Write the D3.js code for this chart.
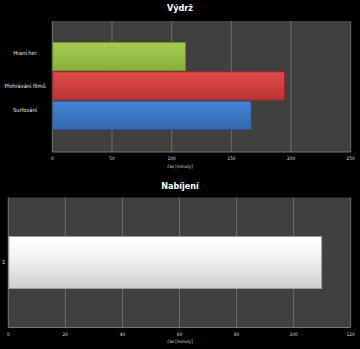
<!DOCTYPE html>
<html>
<head>
<meta charset="utf-8">
<script src="https://cdn.jsdelivr.net/npm/d3@7"></script>
<style>
body { margin: 0; background: #000; }
svg { display: block; font-family: "DejaVu Sans Condensed", "DejaVu Sans", sans-serif; }
</style>
</head>
<body>
<div id="main"></div>
<script>
var categories = ["Hraní her", "Přehrávání filmů", "Surfování"];
var enduranceValues = [112, 195, 167];
var enduranceTicks = [0, 50, 100, 150, 200, 250];
var barColors = [["#a6cc52", "#88b03a", "#6e8f2c"], ["#e24a4a", "#ba3434", "#962828"], ["#4486d8", "#3468ac", "#2a548c"]];

var chargeCategories = ["1"];
var chargeValues = [110];
var chargeTicks = [0, 20, 40, 60, 80, 100, 120];

var width = 360, height = 349;
var svg = d3.select("#main").append("svg").attr("width", width).attr("height", height);
var defs = svg.append("defs");

barColors.forEach(function (c, i) {
	var g = defs.append("linearGradient").attr("id", "grad" + i)
		.attr("x1", 0).attr("y1", 0).attr("x2", 0).attr("y2", 1);
	g.append("stop").attr("offset", "0%").attr("stop-color", c[0]);
	g.append("stop").attr("offset", "100%").attr("stop-color", c[1]);
});
var wg = defs.append("linearGradient").attr("id", "gradWhite")
	.attr("x1", 0).attr("y1", 0).attr("x2", 0).attr("y2", 1);
wg.append("stop").attr("offset", "0%").attr("stop-color", "#ffffff");
wg.append("stop").attr("offset", "35%").attr("stop-color", "#f6f6f6");
wg.append("stop").attr("offset", "100%").attr("stop-color", "#cfcfcf");

function drawPanel(opt) {
	var g = svg.append("g");
	var x = d3.scaleLinear().domain(opt.domain).range([opt.left, opt.right]);

	g.append("rect")
		.attr("x", opt.left).attr("y", opt.top)
		.attr("width", opt.right - opt.left).attr("height", opt.bottom - opt.top)
		.attr("fill", "#404040");

	// gridlines
	g.selectAll(".grid").data(opt.ticks.slice(1)).enter().append("line")
		.attr("x1", function (d) { return x(d); }).attr("x2", function (d) { return x(d); })
		.attr("y1", opt.top).attr("y2", opt.bottom)
		.attr("stroke", "#6c6c6c").attr("stroke-width", 1);

	g.append("line").attr("x1", opt.left).attr("x2", opt.right)
		.attr("y1", opt.bottom).attr("y2", opt.bottom)
		.attr("stroke", "#777").attr("stroke-width", 1);
	g.append("line").attr("x1", opt.left).attr("x2", opt.left)
		.attr("y1", opt.top).attr("y2", opt.bottom)
		.attr("stroke", "#777").attr("stroke-width", 1);

	var y = d3.scaleBand().domain(opt.categories)
		.range([opt.barTop, opt.barBottom]).paddingInner(0).paddingOuter(0);

	g.selectAll(".bar").data(opt.values).enter().append("rect")
		.attr("x", x(0) + 0.5)
		.attr("y", function (d, i) { return y(opt.categories[i]) + 0.5; })
		.attr("width", function (d) { return x(d) - x(0) - 1; })
		.attr("height", y.bandwidth() - 1)
		.attr("fill", function (d, i) { return opt.fill(i); })
		.attr("stroke", function (d, i) { return opt.stroke(i); })
		.attr("stroke-width", 1);

	g.selectAll(".cat").data(opt.categories).enter().append("text")
		.attr("x", opt.labelX)
		.attr("y", function (d, i) { return opt.labelY(y(d) + y.bandwidth() / 2, i); })
		.attr("text-anchor", "middle").attr("dominant-baseline", "middle")
		.attr("fill", "#eee").attr("font-size", 5.6)
		.text(function (d) { return d; });

	g.selectAll(".tick").data(opt.ticks).enter().append("text")
		.attr("x", function (d) { return x(d); })
		.attr("y", opt.bottom + 7)
		.attr("text-anchor", "middle").attr("dominant-baseline", "middle")
		.attr("fill", "#ddd").attr("font-size", 4.8)
		.text(function (d) { return d; });

	g.append("text").attr("x", 180).attr("y", opt.bottom + 14.5)
		.attr("text-anchor", "middle").attr("dominant-baseline", "middle")
		.attr("fill", "#ddd").attr("font-size", 4.5)
		.text("čas [minuty]");

	g.append("text").attr("x", 180).attr("y", opt.titleY)
		.attr("text-anchor", "middle").attr("dominant-baseline", "middle")
		.attr("fill", "#fff").attr("font-size", 9).attr("font-weight", "bold")
		.text(opt.title);
}

drawPanel({
	title: "Výdrž", titleY: 8.5,
	left: 52.3, right: 350.7, top: 21, bottom: 152,
	barTop: 42, barBottom: 130,
	domain: [0, 250], ticks: enduranceTicks,
	categories: categories, values: enduranceValues,
	fill: function (i) { return "url(#grad" + i + ")"; },
	stroke: function (i) { return barColors[i][2]; },
	labelX: 25,
	labelY: function (c, i) { return c + [-3, 0, -5][i]; }
});

drawPanel({
	title: "Nabíjení", titleY: 186,
	left: 8.3, right: 350.7, top: 197.5, bottom: 327.5,
	barTop: 236, barBottom: 289,
	domain: [0, 120], ticks: chargeTicks,
	categories: chargeCategories, values: chargeValues,
	fill: function () { return "url(#gradWhite)"; },
	stroke: function () { return "#9a9a9a"; },
	labelX: 3.5,
	labelY: function (c) { return c; }
});
</script>
</body>
</html>
